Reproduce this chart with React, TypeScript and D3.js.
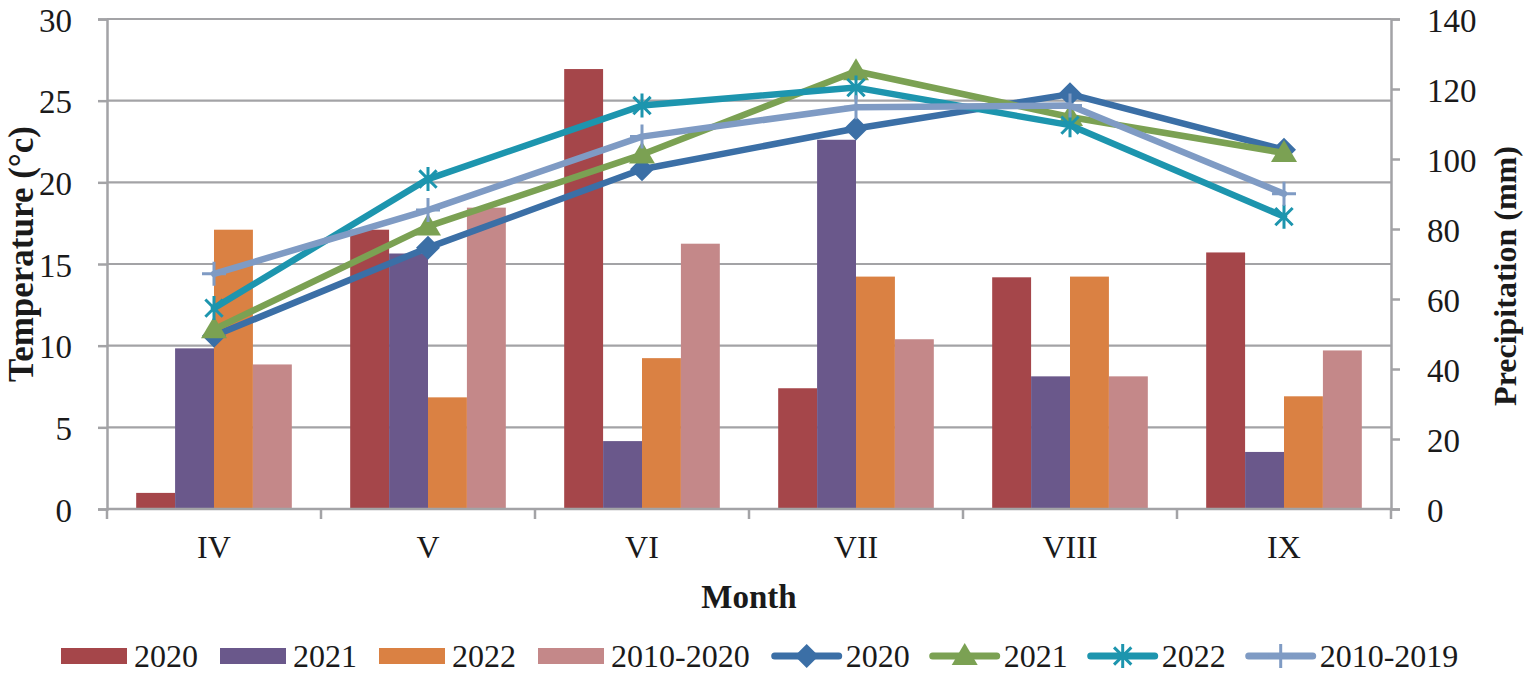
import { useEffect, useRef } from "react";
import * as d3 from "d3";

// Months on the x axis
const months = ["IV", "V", "VI", "VII", "VIII", "IX"];

// Precipitation (mm), bars, right axis
const precip2020 = [4.6, 79.8, 125.7, 34.5, 66.2, 73.3];
const precip2021 = [45.9, 73.0, 19.4, 105.5, 37.9, 16.3];
const precip2022 = [79.8, 31.9, 43.1, 66.4, 66.4, 32.2];
const precip20102020 = [41.3, 86.1, 75.8, 48.5, 37.9, 45.3];

// Temperature (°c), lines, left axis
const temp2020 = [10.6, 16.0, 20.8, 23.3, 25.4, 22.0];
const temp2021 = [11.0, 17.3, 21.7, 26.8, 24.0, 21.8];
const temp2022 = [12.3, 20.2, 24.7, 25.8, 23.5, 17.9];
const temp20102019 = [14.4, 18.3, 22.8, 24.6, 24.7, 19.3];

const tempTicks = [0, 5, 10, 15, 20, 25, 30];
const precipTicks = [0, 20, 40, 60, 80, 100, 120, 140];

const barSeries = [
  { name: "2020", values: precip2020, color: "#A5464A" },
  { name: "2021", values: precip2021, color: "#6A588B" },
  { name: "2022", values: precip2022, color: "#DA8143" },
  { name: "2010-2020", values: precip20102020, color: "#C48889" },
];

const lineSeries = [
  { name: "2020", values: temp2020, color: "#3B6FA6", marker: "diamond" },
  { name: "2021", values: temp2021, color: "#7BA153", marker: "triangle" },
  { name: "2022", values: temp2022, color: "#1D95AE", marker: "star" },
  { name: "2010-2019", values: temp20102019, color: "#7F9BC4", marker: "plus" },
];

const FONT = "'Liberation Serif', 'Times New Roman', serif";
const GRID = "#A3A3A6";

function drawMarker(
  g: d3.Selection<SVGGElement, unknown, null, undefined>,
  type: string,
  cx: number,
  cy: number,
  color: string
) {
  if (type === "diamond") {
    g.append("path")
      .attr("d", `M${cx},${cy - 12}L${cx + 12},${cy}L${cx},${cy + 12}L${cx - 12},${cy}Z`)
      .attr("fill", color);
  } else if (type === "triangle") {
    g.append("path")
      .attr("d", `M${cx},${cy - 13}L${cx + 13},${cy + 9}L${cx - 13},${cy + 9}Z`)
      .attr("fill", color);
  } else if (type === "star") {
    const r = 12;
    const d = r * 0.72;
    g.append("path")
      .attr(
        "d",
        `M${cx - d},${cy - d}L${cx + d},${cy + d}M${cx - d},${cy + d}L${cx + d},${cy - d}M${cx},${cy - r}L${cx},${cy + r}`
      )
      .attr("stroke", color)
      .attr("stroke-width", 3)
      .attr("fill", "none");
  } else if (type === "plus") {
    g.append("path")
      .attr("d", `M${cx - 12},${cy}L${cx + 12},${cy}M${cx},${cy - 12}L${cx},${cy + 12}`)
      .attr("stroke", color)
      .attr("stroke-width", 3)
      .attr("fill", "none");
  }
}

export default function App() {
  const svgRef = useRef<SVGSVGElement>(null);

  useEffect(() => {
    if (!svgRef.current) return;
    const svg = d3.select(svgRef.current);
    svg.selectAll("*").remove();

    const left = 107;
    const right = 1391;
    const top = 19;
    const bottom = 509;

    const x = d3.scaleBand<string>().domain(months).range([left, right]).padding(0);
    const xInner = d3
      .scaleBand<string>()
      .domain(barSeries.map((s) => s.name))
      .range([0, x.bandwidth()])
      .paddingInner(0)
      .paddingOuter(0.75);
    const yT = d3.scaleLinear().domain([0, 30]).range([bottom, top]);
    const yP = d3.scaleLinear().domain([0, 140]).range([bottom, top]);

    const g = svg.append("g");

    // Grid lines
    g.append("g")
      .selectAll("line")
      .data(tempTicks.filter((t) => t > 0))
      .enter()
      .append("line")
      .attr("x1", left)
      .attr("x2", right)
      .attr("y1", (d) => yT(d))
      .attr("y2", (d) => yT(d))
      .attr("stroke", GRID)
      .attr("stroke-width", 2.2);

    // Bars
    barSeries.forEach((s) => {
      g.append("g")
        .selectAll("rect")
        .data(s.values)
        .enter()
        .append("rect")
        .attr("x", (_, i) => (x(months[i]) || 0) + (xInner(s.name) || 0))
        .attr("width", xInner.bandwidth())
        .attr("y", (d) => yP(d))
        .attr("height", (d) => bottom - yP(d))
        .attr("fill", s.color);
    });

    // Left axis
    g.append("g")
      .attr("transform", `translate(${left},0)`)
      .call(d3.axisLeft(yT).tickValues(tempTicks).tickSize(9).tickPadding(26))
      .call((a) => a.select(".domain").attr("stroke", GRID).attr("stroke-width", 2.5))
      .call((a) => a.selectAll(".tick line").attr("stroke", GRID).attr("stroke-width", 2.5))
      .call((a) =>
        a
          .selectAll(".tick text")
          .attr("fill", "#1a1a1a")
          .attr("font-family", FONT)
          .attr("font-size", 33)
          .attr("dy", "0.37em")
      );

    // Right axis
    g.append("g")
      .attr("transform", `translate(${right},0)`)
      .call(d3.axisRight(yP).tickValues(precipTicks).tickSize(9).tickPadding(27))
      .call((a) => a.select(".domain").attr("stroke", GRID).attr("stroke-width", 2.5))
      .call((a) => a.selectAll(".tick line").attr("stroke", GRID).attr("stroke-width", 2.5))
      .call((a) =>
        a
          .selectAll(".tick text")
          .attr("fill", "#1a1a1a")
          .attr("font-family", FONT)
          .attr("font-size", 33)
          .attr("dy", "0.37em")
      );

    // X axis line and boundary ticks
    g.append("line")
      .attr("x1", left)
      .attr("x2", right)
      .attr("y1", bottom)
      .attr("y2", bottom)
      .attr("stroke", GRID)
      .attr("stroke-width", 2.5);
    const bounds = months.map((m) => x(m) || 0).concat([right]);
    g.append("g")
      .selectAll("line")
      .data(bounds)
      .enter()
      .append("line")
      .attr("x1", (d) => d)
      .attr("x2", (d) => d)
      .attr("y1", bottom)
      .attr("y2", bottom + 10)
      .attr("stroke", GRID)
      .attr("stroke-width", 2.5);
    g.append("g")
      .selectAll("text")
      .data(months)
      .enter()
      .append("text")
      .attr("x", (d) => (x(d) || 0) + x.bandwidth() / 2)
      .attr("y", 558)
      .attr("text-anchor", "middle")
      .attr("font-family", FONT)
      .attr("font-size", 32)
      .attr("fill", "#1a1a1a")
      .text((d) => d);

    // Lines
    lineSeries.forEach((s) => {
      const line = d3
        .line<number>()
        .x((_, i) => (x(months[i]) || 0) + x.bandwidth() / 2)
        .y((d) => yT(d));
      const lg = g.append("g");
      lg.append("path")
        .datum(s.values)
        .attr("d", line)
        .attr("fill", "none")
        .attr("stroke", s.color)
        .attr("stroke-width", 6.5)
        .attr("stroke-linejoin", "round")
        .attr("stroke-linecap", "round");
      s.values.forEach((v, i) => {
        drawMarker(lg, s.marker, (x(months[i]) || 0) + x.bandwidth() / 2, yT(v), s.color);
      });
    });

    // Axis titles
    g.append("text")
      .attr("transform", `translate(33,${(top + bottom) / 2 - 10}) rotate(-90)`)
      .attr("text-anchor", "middle")
      .attr("font-family", FONT)
      .attr("font-weight", "bold")
      .attr("font-size", 35)
      .attr("fill", "#1a1a1a")
      .text("Temperature (°c)");
    g.append("text")
      .attr("transform", `translate(1516,${(top + bottom) / 2 + 12}) rotate(-90)`)
      .attr("text-anchor", "middle")
      .attr("font-family", FONT)
      .attr("font-weight", "bold")
      .attr("font-size", 32)
      .attr("fill", "#1a1a1a")
      .text("Precipitation (mm)");
    g.append("text")
      .attr("x", (left + right) / 2)
      .attr("y", 608)
      .attr("text-anchor", "middle")
      .attr("font-family", FONT)
      .attr("font-weight", "bold")
      .attr("font-size", 33)
      .attr("fill", "#1a1a1a")
      .text("Month");

    // Legend
    const legend = g.append("g");
    const ly = 656;
    let lx = 61;
    const textW = (t: string) => t.length * 16 - (t.includes("-") ? 5.3 : 0);
    barSeries.forEach((s) => {
      legend
        .append("rect")
        .attr("x", lx)
        .attr("y", ly - 8)
        .attr("width", 66)
        .attr("height", 16)
        .attr("fill", s.color);
      legend
        .append("text")
        .attr("x", lx + 73)
        .attr("y", ly + 11)
        .attr("font-family", FONT)
        .attr("font-size", 32)
        .attr("fill", "#1a1a1a")
        .text(s.name);
      lx += 73 + textW(s.name) + 22;
    });
    lineSeries.forEach((s) => {
      legend
        .append("line")
        .attr("x1", lx + 3)
        .attr("x2", lx + 67)
        .attr("y1", ly)
        .attr("y2", ly)
        .attr("stroke", s.color)
        .attr("stroke-width", 7)
        .attr("stroke-linecap", "round");
      drawMarker(legend, s.marker, lx + 35, ly, s.color);
      legend
        .append("text")
        .attr("x", lx + 74)
        .attr("y", ly + 11)
        .attr("font-family", FONT)
        .attr("font-size", 32)
        .attr("fill", "#1a1a1a")
        .text(s.name);
      lx += 74 + textW(s.name) + 20;
    });
  }, []);

  return (
    <svg
      ref={svgRef}
      width={1524}
      height={677}
      style={{ position: "absolute", left: 0, top: 0, background: "#fff" }}
    />
  );
}
